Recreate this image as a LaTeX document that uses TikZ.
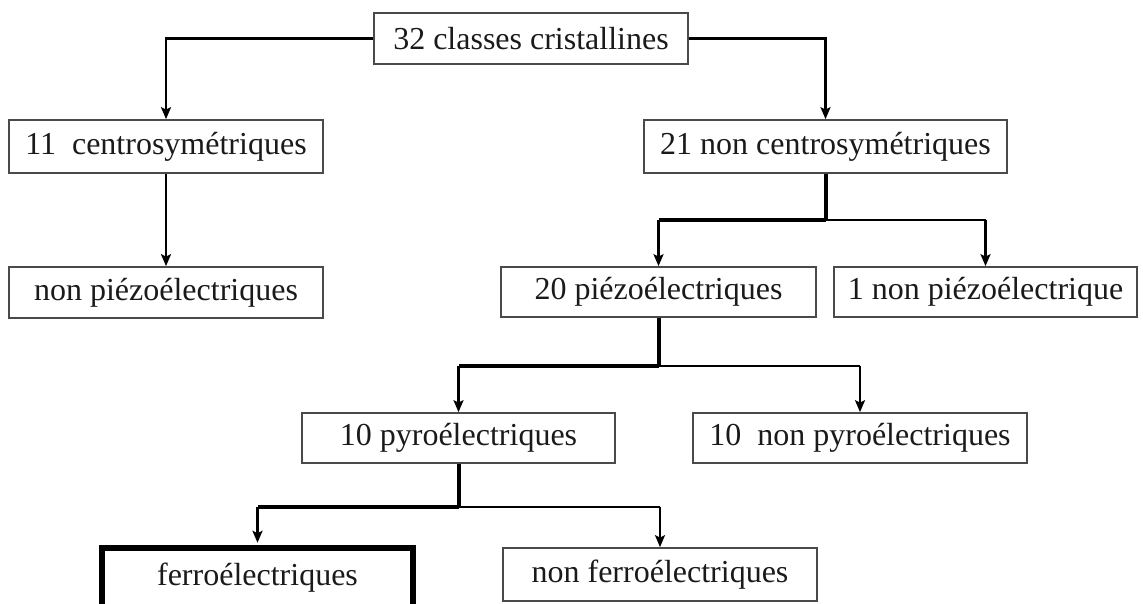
\documentclass[tikz,border=0pt]{standalone}
\usepackage{fontspec}
\setmainfont{Liberation Serif}
\usetikzlibrary{arrows.meta,calc}
\definecolor{boxline}{HTML}{4A4A4A}
\definecolor{ink}{HTML}{1A1A1A}
\tikzset{
  box/.style={draw=boxline, line width=1.7pt, rectangle, inner sep=0pt,
              text=ink, font=\fontsize{32}{36}\selectfont},
  conn/.style={draw=black, line width=2.4pt},
  heavy/.style={draw=black, line width=4pt},
  tip/.style={-{Stealth[length=12pt,width=10pt,inset=2.5pt]}}
}
\begin{document}
\begin{tikzpicture}[x=1pt,y=-1pt]
  \useasboundingbox (0,0) rectangle (1143,603);

  % boxes
  \node[box, minimum width=314pt, minimum height=51pt] (top)   at (531,38.5)  {32 classes cristallines};
  \node[box, minimum width=314pt, minimum height=53pt] (c11)   at (166,146.5) {11\ \ centrosymétriques};
  \node[box, minimum width=314pt, minimum height=51pt] (np)    at (166,292.5) {non piézoélectriques};
  \node[box, minimum width=363pt, minimum height=53pt] (c21)   at (825.5,146.5) {21 non centrosymétriques};
  \node[box, minimum width=315pt, minimum height=50pt] (p20)   at (658.5,292) {20 piézoélectriques};
  \node[box, minimum width=303pt, minimum height=50pt] (np1)   at (985.5,292) {1 non piézoélectrique};
  \node[box, minimum width=313pt, minimum height=50pt] (py10)  at (458.5,438) {10 pyroélectriques};
  \node[box, minimum width=334pt, minimum height=50pt] (npy10) at (860,438)   {10\ \ non pyroélectriques};
  \node[box, draw=black, line width=5.5pt, minimum width=311pt, minimum height=66pt,
        text depth=14pt] (fer) at (257.5,581) {ferroélectriques};
  \node[box, minimum width=314pt, minimum height=53pt] (nfer)  at (660,574.5) {non ferroélectriques};

  % first split
  \draw[conn,tip] (top.west) -| (c11.north);
  \draw[conn,tip] (top.east) -| (c21.north);
  \draw[conn,tip] (c11.south) -- (np.north);

  % non-centrosymmetric split
  \draw[heavy] (c21.south) -- ++(0,46) coordinate (j1);
  \draw[heavy] (j1) -- (j1 -| p20.north) coordinate (j1l);
  \draw[conn,tip] (j1l) -- (p20.north);
  \draw[conn] (j1) -- (j1 -| np1.north) coordinate (j1r);
  \draw[conn,tip] (j1r) -- (np1.north);

  % piezoelectric split
  \draw[heavy] (p20.south) -- ++(0,48) coordinate (j2);
  \draw[heavy] (j2) -- (j2 -| py10.north) coordinate (j2l);
  \draw[conn,tip] (j2l) -- (py10.north);
  \draw[conn] (j2) -- (j2 -| npy10.north) coordinate (j2r);
  \draw[conn,tip] (j2r) -- (npy10.north);

  % pyroelectric split
  \draw[heavy] (py10.south) -- ++(0,43) coordinate (j3);
  \draw[heavy] (j3) -- (j3 -| fer.north) coordinate (j3l);
  \draw[conn,tip] (j3l) -- ($(fer.north)+(0,-2.5)$);
  \draw[conn] (j3) -- (j3 -| nfer.north) coordinate (j3r);
  \draw[draw=black, line width=1.8pt, tip] (j3r) -- (nfer.north);
\end{tikzpicture}
\end{document}
